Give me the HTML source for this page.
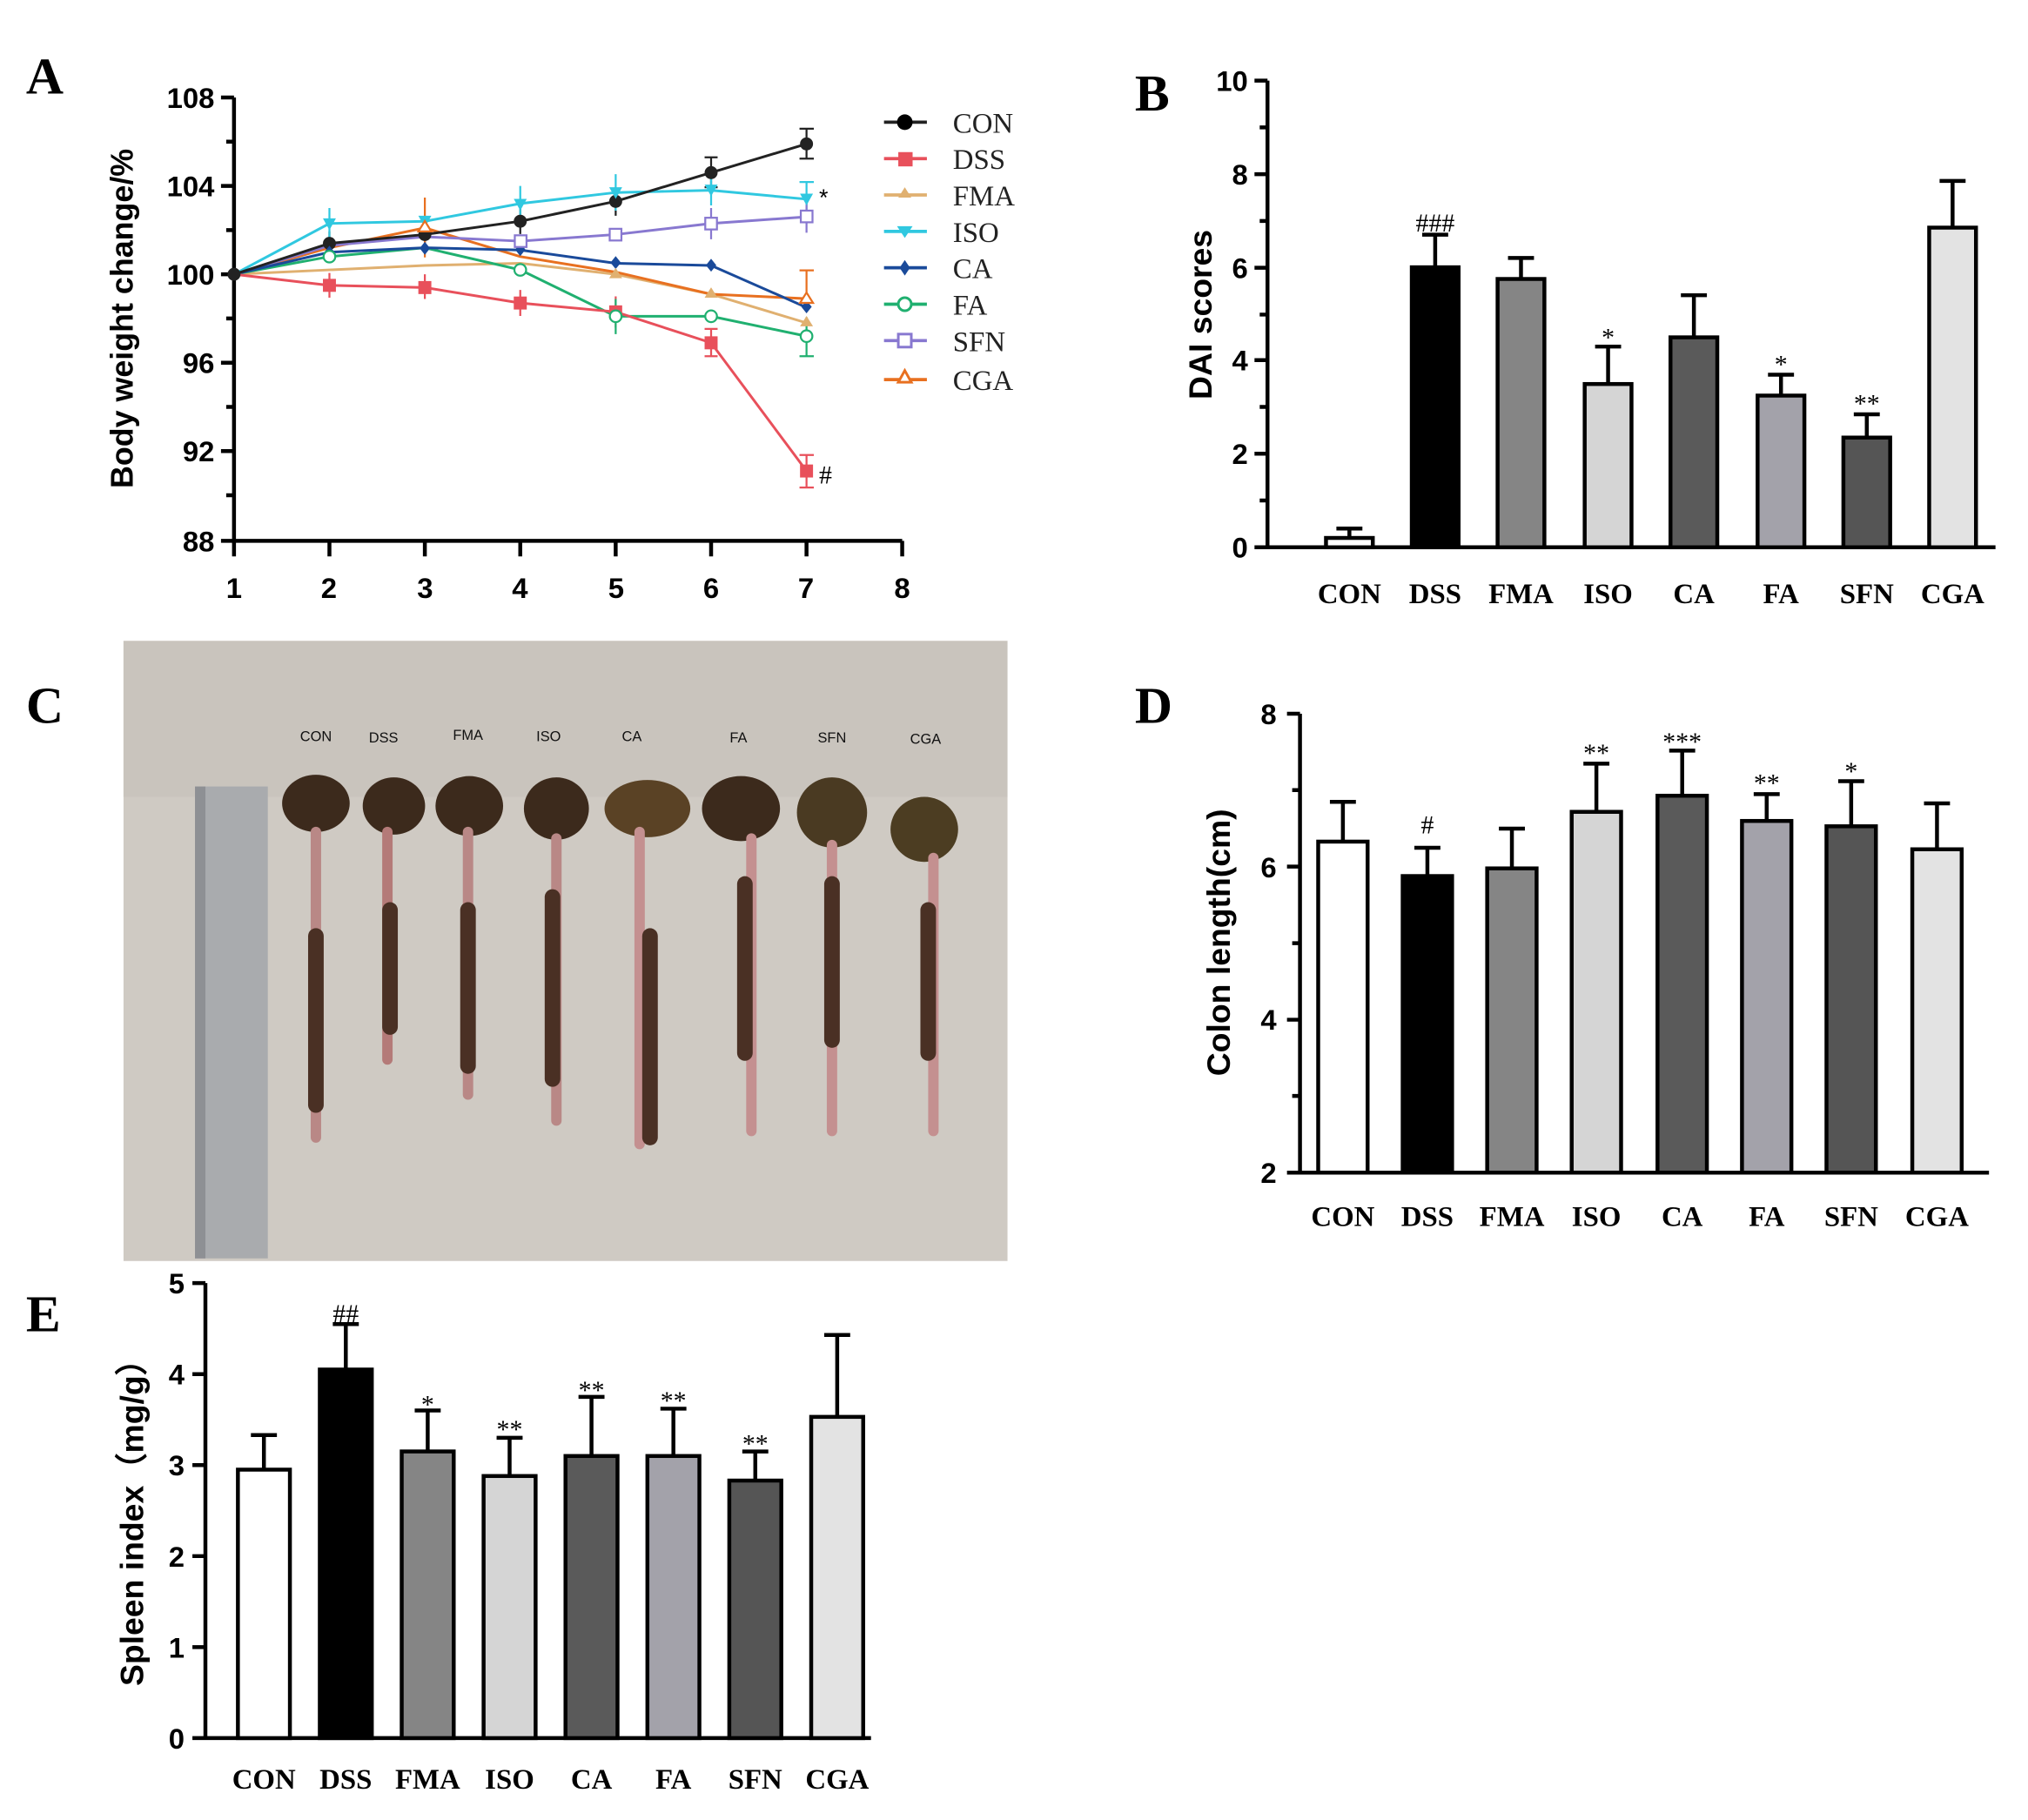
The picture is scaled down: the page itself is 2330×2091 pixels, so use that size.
<!DOCTYPE html>
<html><head><meta charset="utf-8"><style>html,body{margin:0;padding:0;background:#fff}svg{display:block}</style></head>
<body>
<svg width="2330" height="2091" viewBox="0 0 1560 1400" xmlns="http://www.w3.org/2000/svg" font-family="Liberation Sans, sans-serif">
<rect width="1560" height="1400" fill="#fff"/>
<!-- Panel letters -->
<g font-family="Liberation Serif, serif" font-weight="bold" font-size="40">
<text x="20" y="72">A</text><text x="873" y="85">B</text><text x="20" y="556">C</text><text x="873" y="556">D</text><text x="20" y="1024">E</text>
</g>

<!-- Panel A -->
<g stroke="#000" stroke-width="3" fill="none">
<path d="M180 75V416H694"/>
<path d="M170 75H180M170 143H180M170 211H180M170 279H180M170 347H180M170 416H180M174 109H180M174 177H180M174 245H180M174 313H180M174 381H180"/>
<path d="M180 416v12M253.4 416v12M326.8 416v12M400.2 416v12M473.6 416v12M547 416v12M620.4 416v12M694 416v12"/>
</g>
<g font-weight="bold" font-size="22" text-anchor="end">
<text x="165" y="83">108</text><text x="165" y="151">104</text><text x="165" y="219">100</text><text x="165" y="287">96</text><text x="165" y="355">92</text><text x="165" y="424">88</text>
</g>
<g font-weight="bold" font-size="22" text-anchor="middle">
<text x="180" y="460">1</text><text x="253" y="460">2</text><text x="327" y="460">3</text><text x="400" y="460">4</text><text x="474" y="460">5</text><text x="547" y="460">6</text><text x="620" y="460">7</text><text x="694" y="460">8</text>
</g>
<text transform="translate(102,245) rotate(-90)" font-weight="bold" font-size="24" text-anchor="middle">Body weight change/%</text>
<g fill="none" stroke-width="2">
<polyline stroke="#e0b070" points="180,211 253.4,207.6 326.8,204.2 400.2,202.5 473.6,211 547,226.3 620.4,248.4"/>
<polyline stroke="#20b070" points="180,211 253.4,197.4 326.8,190.6 400.2,207.6 473.6,243.3 547,243.3 620.4,258.6"/>
<polyline stroke="#e87020" points="180,211 253.4,190.6 326.8,175.3 400.2,197.4 473.6,209.3 547,226.3 620.4,229.7"/>
<polyline stroke="#8878d0" points="180,211 253.4,188.9 326.8,182.1 400.2,185.5 473.6,180.4 547,171.9 620.4,166.8"/>
<polyline stroke="#1a4a9a" points="180,211 253.4,194 326.8,190.6 400.2,192.3 473.6,202.5 547,204.2 620.4,236.5"/>
<polyline stroke="#30c8e0" points="180,211 253.4,171.9 326.8,170.2 400.2,156.6 473.6,148.1 547,146.4 620.4,153.2"/>
<polyline stroke="#e8505b" points="180,211 253.4,219.5 326.8,221.2 400.2,233.1 473.6,239.9 547,263.7 620.4,362.3"/>
<polyline stroke="#222" points="180,211 253.4,187.2 326.8,180.4 400.2,170.2 473.6,154.9 547,132.8 620.4,110.7"/>
</g>
<!-- error bars -->
<g stroke-width="1.5" fill="none">
<path stroke="#222" d="M620.4 99v23M615 99h11M615 122h11M547 121v23M542 121h10M542 144h10M473.6 144v22M253.4 178v18M326.8 170v20M400.2 160v20"/>
<path stroke="#e8505b" d="M620.4 350v25M615 350h11M615 375h11M547 253v21M542 253h10M542 274h10M400.2 223v20M473.6 228v24M253.4 210v19M326.8 211v19"/>
<path stroke="#30c8e0" d="M620.4 140v26M615 140h11M253.4 160v24M400.2 143v27M473.6 134v28M547 134v24"/>
<path stroke="#20b070" d="M620.4 244v30M615 274h11M473.6 230v27"/>
<path stroke="#e87020" d="M620.4 208v32M615 208h11M326.8 152v46"/>
<path stroke="#8878d0" d="M620.4 155v24M547 160v24"/>
</g>
<!-- markers -->
<g>
<g fill="#222"><circle cx="180" cy="211" r="5"/><circle cx="253.4" cy="187.2" r="5"/><circle cx="326.8" cy="180.4" r="5"/><circle cx="400.2" cy="170.2" r="5"/><circle cx="473.6" cy="154.9" r="5"/><circle cx="547" cy="132.8" r="5"/><circle cx="620.4" cy="110.7" r="5"/></g>
<g fill="#e8505b"><rect x="248.4" y="214.5" width="10" height="10"/><rect x="321.8" y="216.2" width="10" height="10"/><rect x="395.2" y="228.1" width="10" height="10"/><rect x="468.6" y="234.9" width="10" height="10"/><rect x="542" y="258.7" width="10" height="10"/><rect x="615.4" y="357.3" width="10" height="10"/></g>
<g fill="#30c8e0"><path d="M248.4 168h10l-5 9zM321.8 166h10l-5 9zM395.2 153h10l-5 9zM468.6 144h10l-5 9zM542 142h10l-5 9zM615.4 149h10l-5 9z"/></g>
<g fill="#1a4a9a"><path d="M253.4 189l4 5-4 5-4-5zM326.8 186l4 5-4 5-4-5zM400.2 187l4 5-4 5-4-5zM473.6 197l4 5-4 5-4-5zM547 199l4 5-4 5-4-5zM620.4 231l4 5-4 5-4-5z"/></g>
<g fill="#fff" stroke="#20b070" stroke-width="1.5"><circle cx="253.4" cy="197.4" r="4.5"/><circle cx="400.2" cy="207.6" r="4.5"/><circle cx="473.6" cy="243.3" r="4.5"/><circle cx="547" cy="243.3" r="4.5"/><circle cx="620.4" cy="258.6" r="4.5"/></g>
<g fill="#fff" stroke="#8878d0" stroke-width="1.5"><rect x="396" y="181" width="9" height="9"/><rect x="469" y="176" width="9" height="9"/><rect x="542.5" y="167.5" width="9" height="9"/><rect x="616" y="162" width="9" height="9"/></g>
<g fill="#fff" stroke="#e87020" stroke-width="1.5"><path d="M326.8 170l5 8h-10zM620.4 225l5 8h-10z"/></g>
<g fill="#e0b070"><path d="M473.6 206l5 8h-10zM547 221l5 8h-10zM620.4 243l5 8h-10z"/></g>
</g>
<text x="630" y="158" font-size="18">*</text>
<text x="630" y="372" font-family="Liberation Serif, serif" font-size="20">#</text>
<!-- legend -->
<g stroke-width="2.5" fill="none">
<path stroke="#222" d="M680 94h33"/><path stroke="#e8505b" d="M680 122h33"/><path stroke="#e0b070" d="M680 150h33"/><path stroke="#30c8e0" d="M680 178h33"/><path stroke="#1a4a9a" d="M680 206h33"/><path stroke="#20b070" d="M680 234h33"/><path stroke="#8878d0" d="M680 262h33"/><path stroke="#e87020" d="M680 292h33"/>
</g>
<circle cx="696" cy="94" r="6" fill="#000"/><rect x="691" y="117" width="11" height="11" fill="#e8505b"/><path d="M696 144l5 8h-10z" fill="#e0b070"/><path d="M690 174h12l-6 9z" fill="#30c8e0"/><path d="M696 200l4 6-4 6-4-6z" fill="#1a4a9a"/><circle cx="696" cy="234" r="5" fill="#fff" stroke="#20b070" stroke-width="2"/><rect x="691" y="257" width="10" height="10" fill="#fff" stroke="#8878d0" stroke-width="2"/><path d="M696 285l5 9h-10z" fill="#fff" stroke="#e87020" stroke-width="2"/>
<g font-family="Liberation Serif, serif" font-size="22" fill="#222">
<text x="733" y="102">CON</text><text x="733" y="130">DSS</text><text x="733" y="158">FMA</text><text x="733" y="186">ISO</text><text x="733" y="214">CA</text><text x="733" y="242">FA</text><text x="733" y="270">SFN</text><text x="733" y="300">CGA</text>
</g>

<!-- Panel B -->
<g stroke="#000" stroke-width="3" fill="none"><path d="M975 62V421H1535M965 62H975M965 134H975M965 206H975M965 277H975M965 349H975M965 421H975M969 98H975M969 170H975M969 242H975M969 313H975M969 385H975"/></g>
<g font-weight="bold" font-size="22" text-anchor="end"><text x="960" y="70">10</text><text x="960" y="142">8</text><text x="960" y="214">6</text><text x="960" y="285">4</text><text x="960" y="357">2</text><text x="960" y="429">0</text></g>
<text transform="translate(932,242) rotate(-90)" font-weight="bold" font-size="25" text-anchor="middle">DAI scores</text>
<g stroke="#000" stroke-width="3">
<rect x="1020" y="413.8" width="36" height="7.2" fill="#fff"/>
<rect x="1086" y="205.6" width="36" height="215.4" fill="#000"/>
<rect x="1152" y="214.6" width="36" height="206.4" fill="#858585"/>
<rect x="1219" y="295.4" width="36" height="125.6" fill="#d5d5d5"/>
<rect x="1285" y="259.5" width="36" height="161.5" fill="#5a5a5a"/>
<rect x="1352" y="304.3" width="36" height="116.7" fill="#a3a2aa"/>
<rect x="1418" y="336.6" width="36" height="84.4" fill="#555"/>
<rect x="1484" y="175.1" width="36" height="245.9" fill="#e3e3e3"/>
<path fill="none" d="M1038 413.8V406.6M1028 406.6h20M1104 205.6V180.5M1094 180.5h20M1170 214.6V198.4M1160 198.4h20M1237 295.4V266.6M1227 266.6h20M1303 259.5V227.1M1293 227.1h20M1370 304.3V288.2M1360 288.2h20M1436 336.6V318.7M1426 318.7h20M1502 175.1V139.2M1492 139.2h20"/>
</g>
<g font-family="Liberation Serif, serif" font-size="20" text-anchor="middle"><text x="1104" y="178">###</text><text x="1237" y="266">*</text><text x="1370" y="287">*</text><text x="1436" y="317">**</text></g>
<g font-family="Liberation Serif, serif" font-weight="bold" font-size="22" text-anchor="middle"><text x="1038" y="464">CON</text><text x="1104" y="464">DSS</text><text x="1170" y="464">FMA</text><text x="1237" y="464">ISO</text><text x="1303" y="464">CA</text><text x="1370" y="464">FA</text><text x="1436" y="464">SFN</text><text x="1502" y="464">CGA</text></g>

<!-- Panel C photo -->
<rect x="95" y="493" width="680" height="477" fill="#cfcac3"/>
<rect x="95" y="493" width="680" height="120" fill="#c9c4bd"/>
<rect x="150" y="605" width="56" height="363" fill="#a9abae"/>
<rect x="150" y="605" width="8" height="363" fill="#8e9094"/>
<g font-size="11" fill="#111" text-anchor="middle"><text x="243" y="570">CON</text><text x="295" y="571">DSS</text><text x="360" y="569">FMA</text><text x="422" y="570">ISO</text><text x="486" y="570">CA</text><text x="568" y="571">FA</text><text x="640" y="571">SFN</text><text x="712" y="572">CGA</text></g>
<g fill="#3c2a1c">
<ellipse cx="243" cy="618" rx="26" ry="22"/><ellipse cx="303" cy="620" rx="24" ry="22"/><ellipse cx="361" cy="620" rx="26" ry="23"/><ellipse cx="428" cy="622" rx="25" ry="24"/><ellipse cx="498" cy="622" rx="33" ry="22" fill="#5a4225"/><ellipse cx="570" cy="622" rx="30" ry="25"/><ellipse cx="640" cy="625" rx="27" ry="27" fill="#4a3a22"/><ellipse cx="711" cy="638" rx="26" ry="25" fill="#4c3d22"/>
</g>
<g stroke-linecap="round" fill="none" stroke-width="8">
<path stroke="#b98886" d="M243 640V875"/><path stroke="#b47a78" d="M298 640V815"/><path stroke="#b98886" d="M360 640V842"/><path stroke="#b98886" d="M428 645V862"/><path stroke="#c49090" d="M492 640V880"/><path stroke="#c49090" d="M578 645V870"/><path stroke="#c49090" d="M640 650V870"/><path stroke="#c49090" d="M718 660V870"/>
</g>
<g stroke-linecap="round" fill="none" stroke-width="12" stroke="#4a3024">
<path d="M243 720V850"/><path d="M300 700V790"/><path d="M360 700V820"/><path d="M425 690V830"/><path d="M500 720V875"/><path d="M573 680V810"/><path d="M640 680V800"/><path d="M714 700V810"/>
</g>

<!-- Panel D -->
<g stroke="#000" stroke-width="3" fill="none"><path d="M1000 549V902H1530M990 549H1000M990 666.6H1000M990 784.4H1000M990 902H1000M994 607.8H1000M994 725.5H1000M994 843H1000"/></g>
<g font-weight="bold" font-size="22" text-anchor="end"><text x="982" y="557">8</text><text x="982" y="675">6</text><text x="982" y="792">4</text><text x="982" y="910">2</text></g>
<text transform="translate(946,725) rotate(-90)" font-weight="bold" font-size="25" text-anchor="middle">Colon length(cm)</text>
<g stroke="#000" stroke-width="3">
<rect x="1014" y="647.4" width="38" height="254.6" fill="#fff"/>
<rect x="1079" y="673.9" width="38" height="228.1" fill="#000"/>
<rect x="1144" y="668" width="38" height="234" fill="#858585"/>
<rect x="1209" y="624.5" width="38" height="277.5" fill="#d5d5d5"/>
<rect x="1275" y="612.1" width="38" height="289.9" fill="#5a5a5a"/>
<rect x="1340" y="631.5" width="38" height="270.5" fill="#a3a2aa"/>
<rect x="1405" y="635.6" width="38" height="266.4" fill="#555"/>
<rect x="1471" y="653.3" width="38" height="248.7" fill="#e3e3e3"/>
<path fill="none" d="M1033 647.4V616.8M1023 616.8h20M1098 673.9V652.1M1088 652.1h20M1163 668V637.4M1153 637.4h20M1228 624.5V587.4M1218 587.4h20M1294 612.1V577.4M1284 577.4h20M1359 631.5V610.9M1349 610.9h20M1424 635.6V600.9M1414 600.9h20M1490 653.3V618M1480 618h20"/>
</g>
<g font-family="Liberation Serif, serif" font-size="20" text-anchor="middle"><text x="1098" y="641">#</text><text x="1228" y="586">**</text><text x="1294" y="577">***</text><text x="1359" y="609">**</text><text x="1424" y="600">*</text></g>
<g font-family="Liberation Serif, serif" font-weight="bold" font-size="22" text-anchor="middle"><text x="1033" y="943">CON</text><text x="1098" y="943">DSS</text><text x="1163" y="943">FMA</text><text x="1228" y="943">ISO</text><text x="1294" y="943">CA</text><text x="1359" y="943">FA</text><text x="1424" y="943">SFN</text><text x="1490" y="943">CGA</text></g>

<!-- Panel E -->
<g stroke="#000" stroke-width="3" fill="none"><path d="M158 987V1337H670M148 987H158M148 1057H158M148 1127H158M148 1197H158M148 1267H158M148 1337H158"/></g>
<g font-weight="bold" font-size="22" text-anchor="end"><text x="142" y="995">5</text><text x="142" y="1065">4</text><text x="142" y="1135">3</text><text x="142" y="1205">2</text><text x="142" y="1275">1</text><text x="142" y="1345">0</text></g>
<text transform="translate(110,1165) rotate(-90)" font-weight="bold" font-size="25" text-anchor="middle">Spleen index（mg/g）</text>
<g stroke="#000" stroke-width="3">
<rect x="183" y="1130.5" width="40" height="206.5" fill="#fff"/>
<rect x="246" y="1053.5" width="40" height="283.5" fill="#000"/>
<rect x="309" y="1116.5" width="40" height="220.5" fill="#858585"/>
<rect x="372" y="1135.4" width="40" height="201.6" fill="#d5d5d5"/>
<rect x="435" y="1120" width="40" height="217" fill="#5a5a5a"/>
<rect x="498" y="1120" width="40" height="217" fill="#a3a2aa"/>
<rect x="561" y="1138.9" width="40" height="198.1" fill="#555"/>
<rect x="624" y="1089.9" width="40" height="247.1" fill="#e3e3e3"/>
<path fill="none" d="M203 1130.5V1103.9M193 1103.9h20M266 1053.5V1018.5M256 1018.5h20M329 1116.5V1085M319 1085h20M392 1135.4V1106M382 1106h20M455 1120V1074.5M445 1074.5h20M518 1120V1083.6M508 1083.6h20M581 1138.9V1116.5M571 1116.5h20M644 1089.9V1026.9M634 1026.9h20"/>
</g>
<g font-family="Liberation Serif, serif" font-size="20" text-anchor="middle"><text x="266" y="1017">##</text><text x="329" y="1087">*</text><text x="392" y="1106">**</text><text x="455" y="1076">**</text><text x="518" y="1084">**</text><text x="581" y="1117">**</text></g>
<g font-family="Liberation Serif, serif" font-weight="bold" font-size="22" text-anchor="middle"><text x="203" y="1376">CON</text><text x="266" y="1376">DSS</text><text x="329" y="1376">FMA</text><text x="392" y="1376">ISO</text><text x="455" y="1376">CA</text><text x="518" y="1376">FA</text><text x="581" y="1376">SFN</text><text x="644" y="1376">CGA</text></g>
</svg>
</body></html>
